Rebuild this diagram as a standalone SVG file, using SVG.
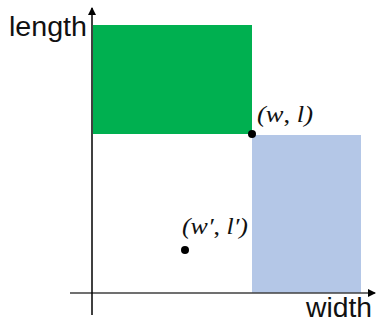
<svg xmlns="http://www.w3.org/2000/svg" width="376" height="327" viewBox="0 0 376 327">
<defs>
<marker id="ah" markerWidth="8" markerHeight="8" refX="7" refY="4" orient="auto" markerUnits="userSpaceOnUse">
<path d="M0,0 L8,4 L0,8 z" fill="#000"/>
</marker>
<style>
.lbl{font-family:"Liberation Sans",Arial,sans-serif;font-size:27px;fill:#111}
.math{font-family:"Liberation Serif","DejaVu Serif",serif;font-style:italic;font-size:24px;fill:#111}
.dot{fill:#000}
</style>
</defs>
<rect x="0" y="0" width="376" height="327" fill="#fff"/>
<g id="green-region"><rect x="93" y="25" width="159" height="109" fill="#00b050"/></g>
<g id="blue-region"><rect x="252" y="135" width="109" height="158" fill="#b4c7e7"/></g>
<g id="connectors">
<line x1="70" y1="293" x2="375" y2="293" stroke="#404040" stroke-width="1.5" marker-end="url(#ah)"/>
<line x1="92" y1="315" x2="92" y2="8" stroke="#000" stroke-width="1.5" marker-end="url(#ah)"/>
</g>
<g id="axis-labels">
<text class="lbl" x="9" y="36" textLength="78" lengthAdjust="spacingAndGlyphs">length</text>
<text class="lbl" x="306" y="317" textLength="66" lengthAdjust="spacingAndGlyphs">width</text>
</g>
<g id="point-wl">
<circle class="dot" cx="252" cy="134" r="4"/>
<text class="math" x="257" y="122" textLength="56" lengthAdjust="spacingAndGlyphs">(w<tspan font-style="normal">, </tspan>l)</text>
</g>
<g id="point-wl-prime">
<circle class="dot" cx="185" cy="250" r="4"/>
<text class="math" x="182" y="234" textLength="66" lengthAdjust="spacingAndGlyphs">(w′<tspan font-style="normal">, </tspan>l′)</text>
</g>
</svg>
